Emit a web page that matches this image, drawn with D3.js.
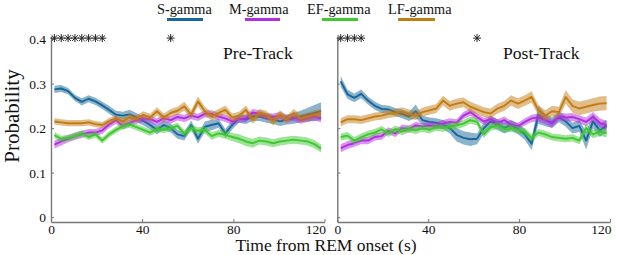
<!DOCTYPE html>
<html>
<head>
<meta charset="utf-8">
<script src="https://cdn.jsdelivr.net/npm/d3@7"></script>
<style>
    html, body { margin: 0; padding: 0; background: #fff; }
    svg { display: block; font-family: "Liberation Serif", "Times New Roman", serif; }
</style>
</head>
<body>
<rem-chart></rem-chart>
<script>
// bin centres (s)
const times = [1.5, 4.5, 7.5, 10.5, 13.5, 16.5, 19.5, 22.5, 25.5, 28.5,
    31.5, 34.5, 37.5, 40.5, 43.5, 46.5, 49.5, 52.5, 55.5, 58.5,
    61.5, 64.5, 67.5, 70.5, 73.5, 76.5, 79.5, 82.5, 85.5, 88.5,
    91.5, 94.5, 97.5, 100.5, 103.5, 106.5, 109.5, 112.5, 115.5, 118.5];

const bands = ['S-gamma', 'M-gamma', 'EF-gamma', 'LF-gamma'];
const colors = ['#17679a', '#b22ee0', '#3fc82f', '#c27c14'];
const yTicks = [0, 0.1, 0.2, 0.3, 0.4];
const xTicks = [0, 40, 80, 120];

// Pre-Track
const preS = [0.287, 0.289, 0.283, 0.268, 0.259, 0.266, 0.260, 0.251, 0.241, 0.230,
    0.228, 0.231, 0.224, 0.216, 0.207, 0.196, 0.207, 0.200, 0.186, 0.182,
    0.207, 0.176, 0.203, 0.207, 0.211, 0.188, 0.207, 0.222, 0.219, 0.226,
    0.226, 0.222, 0.219, 0.215, 0.219, 0.222, 0.226, 0.230, 0.234, 0.238];
const preSErr = [0.008, 0.008, 0.007, 0.007, 0.008, 0.008, 0.008, 0.008, 0.009, 0.009,
    0.009, 0.010, 0.010, 0.010, 0.010, 0.010, 0.010, 0.010, 0.010, 0.010,
    0.010, 0.011, 0.012, 0.012, 0.010, 0.010, 0.010, 0.010, 0.010, 0.010,
    0.010, 0.010, 0.010, 0.010, 0.011, 0.012, 0.013, 0.015, 0.018, 0.020];
const preM = [0.163, 0.170, 0.176, 0.182, 0.186, 0.190, 0.190, 0.195, 0.208, 0.218,
    0.205, 0.212, 0.218, 0.222, 0.220, 0.214, 0.222, 0.218, 0.225, 0.222,
    0.228, 0.224, 0.232, 0.232, 0.226, 0.222, 0.215, 0.220, 0.222, 0.235,
    0.232, 0.226, 0.225, 0.228, 0.222, 0.224, 0.218, 0.222, 0.226, 0.222];
const preMErr = [0.009, 0.009, 0.008, 0.008, 0.008, 0.008, 0.008, 0.008, 0.008, 0.008,
    0.008, 0.008, 0.008, 0.008, 0.008, 0.008, 0.008, 0.008, 0.008, 0.008,
    0.008, 0.008, 0.008, 0.008, 0.008, 0.008, 0.008, 0.008, 0.008, 0.008,
    0.008, 0.008, 0.008, 0.008, 0.008, 0.008, 0.008, 0.008, 0.009, 0.009];
const preEF = [0.184, 0.176, 0.178, 0.182, 0.188, 0.180, 0.186, 0.172, 0.186, 0.196,
    0.204, 0.208, 0.202, 0.196, 0.190, 0.198, 0.196, 0.200, 0.205, 0.188,
    0.200, 0.194, 0.196, 0.182, 0.188, 0.185, 0.180, 0.176, 0.170, 0.166,
    0.172, 0.170, 0.166, 0.170, 0.172, 0.174, 0.172, 0.170, 0.164, 0.154];
const preEFErr = [0.007, 0.007, 0.007, 0.007, 0.007, 0.007, 0.007, 0.007, 0.007, 0.007,
    0.007, 0.007, 0.007, 0.007, 0.007, 0.007, 0.007, 0.007, 0.007, 0.007,
    0.008, 0.008, 0.008, 0.008, 0.008, 0.009, 0.009, 0.010, 0.010, 0.010,
    0.009, 0.009, 0.009, 0.009, 0.009, 0.009, 0.009, 0.009, 0.009, 0.009];
const preLF = [0.215, 0.213, 0.211, 0.211, 0.211, 0.213, 0.209, 0.207, 0.216, 0.222,
    0.215, 0.224, 0.221, 0.230, 0.224, 0.238, 0.224, 0.234, 0.239, 0.249,
    0.230, 0.260, 0.238, 0.226, 0.234, 0.241, 0.224, 0.228, 0.241, 0.219,
    0.234, 0.230, 0.215, 0.231, 0.219, 0.234, 0.222, 0.226, 0.231, 0.234];
const preLFErr = [0.007, 0.007, 0.007, 0.007, 0.007, 0.007, 0.007, 0.007, 0.007, 0.007,
    0.008, 0.008, 0.008, 0.008, 0.008, 0.009, 0.009, 0.009, 0.009, 0.010,
    0.010, 0.011, 0.010, 0.009, 0.009, 0.010, 0.009, 0.009, 0.010, 0.009,
    0.009, 0.009, 0.009, 0.009, 0.009, 0.009, 0.009, 0.009, 0.009, 0.009];

// Post-Track
const postS = [0.305, 0.276, 0.268, 0.277, 0.262, 0.250, 0.243, 0.242, 0.236, 0.232,
    0.226, 0.238, 0.218, 0.214, 0.212, 0.208, 0.200, 0.185, 0.178, 0.175,
    0.176, 0.200, 0.215, 0.208, 0.200, 0.207, 0.198, 0.186, 0.165, 0.230,
    0.218, 0.212, 0.225, 0.215, 0.200, 0.205, 0.172, 0.215, 0.195, 0.205];
const postSErr = [0.012, 0.010, 0.010, 0.010, 0.009, 0.009, 0.009, 0.009, 0.009, 0.010,
    0.010, 0.015, 0.010, 0.010, 0.010, 0.010, 0.012, 0.015, 0.015, 0.015,
    0.012, 0.012, 0.012, 0.012, 0.012, 0.012, 0.012, 0.012, 0.014, 0.020,
    0.014, 0.012, 0.012, 0.012, 0.012, 0.014, 0.020, 0.016, 0.015, 0.014];
const postM = [0.155, 0.162, 0.166, 0.172, 0.172, 0.180, 0.182, 0.194, 0.188, 0.200,
    0.198, 0.206, 0.204, 0.206, 0.205, 0.210, 0.214, 0.212, 0.228, 0.236,
    0.225, 0.215, 0.220, 0.212, 0.218, 0.208, 0.204, 0.214, 0.222, 0.224,
    0.218, 0.210, 0.226, 0.224, 0.225, 0.220, 0.214, 0.226, 0.212, 0.206];
const postMErr = [0.009, 0.009, 0.008, 0.008, 0.008, 0.008, 0.008, 0.008, 0.008, 0.008,
    0.008, 0.008, 0.008, 0.008, 0.008, 0.008, 0.008, 0.008, 0.008, 0.008,
    0.008, 0.008, 0.008, 0.008, 0.008, 0.008, 0.008, 0.008, 0.008, 0.009,
    0.009, 0.009, 0.009, 0.009, 0.009, 0.009, 0.010, 0.010, 0.010, 0.010];
const postEF = [0.180, 0.183, 0.172, 0.180, 0.186, 0.190, 0.197, 0.188, 0.198, 0.192,
    0.198, 0.195, 0.200, 0.196, 0.202, 0.200, 0.204, 0.206, 0.210, 0.218,
    0.214, 0.186, 0.202, 0.206, 0.198, 0.200, 0.196, 0.192, 0.178, 0.190,
    0.186, 0.180, 0.178, 0.176, 0.178, 0.172, 0.200, 0.186, 0.192, 0.188];
const postEFErr = [0.008, 0.008, 0.008, 0.008, 0.008, 0.008, 0.008, 0.008, 0.008, 0.008,
    0.008, 0.008, 0.008, 0.008, 0.008, 0.008, 0.008, 0.008, 0.008, 0.008,
    0.008, 0.008, 0.008, 0.008, 0.008, 0.008, 0.008, 0.008, 0.008, 0.008,
    0.008, 0.008, 0.008, 0.008, 0.008, 0.008, 0.009, 0.009, 0.009, 0.009];
const postLF = [0.213, 0.220, 0.220, 0.218, 0.222, 0.226, 0.228, 0.232, 0.234, 0.237,
    0.232, 0.228, 0.236, 0.240, 0.244, 0.262, 0.250, 0.255, 0.258, 0.248,
    0.242, 0.236, 0.233, 0.244, 0.250, 0.262, 0.255, 0.262, 0.270, 0.240,
    0.228, 0.238, 0.236, 0.270, 0.250, 0.244, 0.248, 0.252, 0.255, 0.256];
const postLFErr = [0.009, 0.009, 0.009, 0.009, 0.009, 0.009, 0.009, 0.009, 0.009, 0.010,
    0.010, 0.010, 0.010, 0.010, 0.010, 0.011, 0.011, 0.011, 0.011, 0.011,
    0.011, 0.011, 0.011, 0.011, 0.011, 0.012, 0.012, 0.012, 0.013, 0.012,
    0.012, 0.012, 0.012, 0.015, 0.015, 0.015, 0.015, 0.015, 0.016, 0.016];

// significant bins (s)
const sigPre = [1.5, 4.5, 7.5, 10.5, 13.5, 16.5, 19.5, 22.5, 52.5];
const sigPost = [1.5, 4.5, 7.5, 10.5, 61.5];

class RemChart extends HTMLElement {
    constructor() {
        super();

        this.width = 617;
        this.height = 255;
        this.axisColor = '#777';
        this.font = '"Liberation Serif", "Times New Roman", serif';

        this.svg = d3.select(this)
            .append('svg')
            .attr('width', this.width)
            .attr('height', this.height);

        this.panels = [
            { left: 51, right: 324.5, label: 'Pre-Track', labelX: 223, showY: true,
              series: [[preS, preSErr], [preM, preMErr], [preEF, preEFErr], [preLF, preLFErr]], sig: sigPre },
            { left: 337.3, right: 610, label: 'Post-Track', labelX: 503, showY: false,
              series: [[postS, postSErr], [postM, postMErr], [postEF, postEFErr], [postLF, postLFErr]], sig: sigPost }
        ];
    }

    connectedCallback() {
        this.yScale = d3.scaleLinear()
            .domain([-0.011, 0.407])
            .range([222, 36]);

        this.panels.forEach(p => this.#drawPanel(p));
        this.#drawLabels();
        this.#drawLegend();
    }

    #drawPanel(p) {
        const y = this.yScale;
        const x = d3.scaleLinear().domain([0, 120]).range([p.left, p.right]);
        const g = this.svg.append('g');

        // shaded error bands + mean lines
        p.series.forEach(([mean, err], i) => {
            const rows = times.map((t, k) => ({ t, m: mean[k], e: err[k] }));

            g.append('path')
                .datum(rows)
                .attr('fill', colors[i])
                .attr('fill-opacity', 0.5)
                .attr('d', d3.area()
                    .x(d => x(d.t))
                    .y0(d => y(d.m - d.e))
                    .y1(d => y(d.m + d.e)));

            g.append('path')
                .datum(rows)
                .attr('fill', 'none')
                .attr('stroke', colors[i])
                .attr('stroke-width', 1.9)
                .attr('stroke-linejoin', 'round')
                .attr('d', d3.line().x(d => x(d.t)).y(d => y(d.m)));
        });

        // axes
        const yAxis = d3.axisLeft(y)
            .tickValues(yTicks)
            .tickSizeInner(-3)
            .tickSizeOuter(0)
            .tickPadding(5)
            .tickFormat(d => p.showY ? d3.format('')(d) : '');

        const ya = g.append('g')
            .attr('transform', `translate(${p.left}, 0)`)
            .call(yAxis);

        const xAxis = d3.axisBottom(x)
            .tickValues(xTicks)
            .tickSizeInner(-3)
            .tickSizeOuter(0)
            .tickPadding(2);

        const xa = g.append('g')
            .attr('transform', `translate(0, ${y.range()[0]})`)
            .call(xAxis);

        [ya, xa].forEach(a => {
            a.attr('font-family', this.font).attr('font-size', 13.5);
            a.select('.domain').attr('stroke', this.axisColor).attr('stroke-width', 1.4);
            a.selectAll('line').attr('stroke', this.axisColor);
            a.selectAll('text').attr('fill', '#111');
        });
        ya.selectAll('text').attr('dy', '0.35em');
        xa.selectAll('text').attr('dy', '0.72em');
        // last x label sits flush with the axis end, as in the original
        xa.selectAll('.tick text')
            .filter(d => d === 120)
            .attr('text-anchor', 'end')
            .attr('x', 1);

        // significance stars
        const r = 4;
        const star = g.append('g')
            .attr('stroke', '#222')
            .attr('stroke-width', 1)
            .selectAll('g')
            .data(p.sig)
            .join('g')
            .attr('transform', d => `translate(${x(d)}, ${y(0.4) - 1})`);

        [[-r, 0, r, 0], [0, -r, 0, r], [-r * 0.72, -r * 0.72, r * 0.72, r * 0.72], [-r * 0.72, r * 0.72, r * 0.72, -r * 0.72]]
            .forEach(([x1, y1, x2, y2]) => {
                star.append('line')
                    .attr('x1', x1).attr('y1', y1)
                    .attr('x2', x2).attr('y2', y2);
            });

        g.append('text')
            .attr('x', p.labelX)
            .attr('y', 59)
            .style('font-size', '17.6px')
            .attr('fill', '#111')
            .text(p.label);
    }

    #drawLabels() {
        this.svg.append('text')
            .attr('transform', 'translate(19, 116) rotate(-90)')
            .attr('text-anchor', 'middle')
            .style('font-size', '21px')
            .attr('fill', '#111')
            .text('Probability');

        this.svg.append('text')
            .attr('x', 326)
            .attr('y', 251)
            .attr('text-anchor', 'middle')
            .style('font-size', '17.5px')
            .attr('fill', '#111')
            .text('Time from REM onset (s)');
    }

    #drawLegend() {
        const textX = [157, 229, 307, 388];
        const lineX = [[167, 203], [245, 280], [322, 358], [398, 435]];

        const item = this.svg.append('g')
            .selectAll('g')
            .data(bands)
            .join('g');

        item.append('text')
            .attr('x', (d, i) => textX[i])
            .attr('y', 14)
            .style('font-size', '14.3px')
            .attr('fill', '#111')
            .text(d => d);

        item.append('line')
            .attr('x1', (d, i) => lineX[i][0])
            .attr('x2', (d, i) => lineX[i][1])
            .attr('y1', 19.5)
            .attr('y2', 19.5)
            .attr('stroke', (d, i) => colors[i])
            .attr('stroke-width', 3);
    }

    static define(tag = 'rem-chart') {
        customElements.define(tag, this);
    }
}

RemChart.define();
</script>
</body>
</html>
